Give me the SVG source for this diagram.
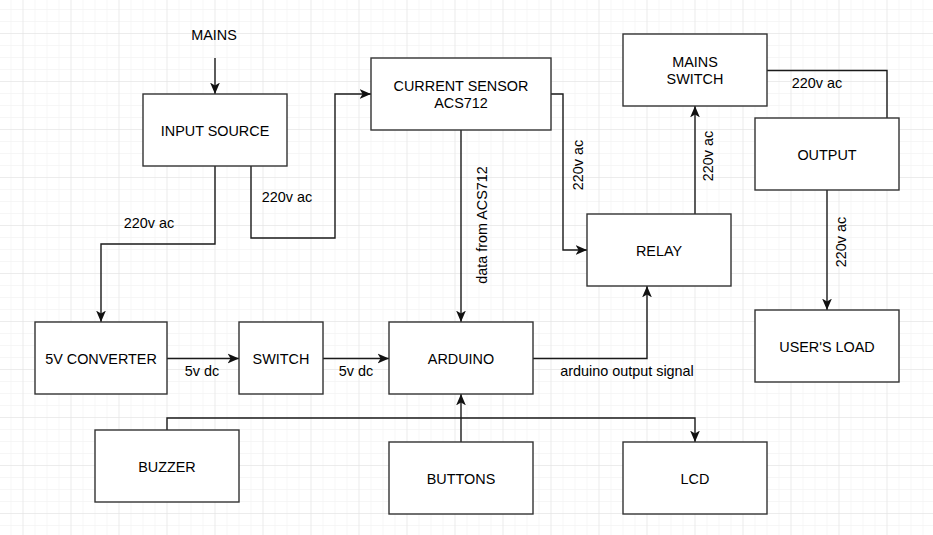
<svg xmlns="http://www.w3.org/2000/svg" width="933" height="535" viewBox="0 0 933 535">
<defs>
<pattern id="minor" x="10.5" y="9" width="12" height="12" patternUnits="userSpaceOnUse">
<path d="M0,0 H12 M0,0 V12" fill="none" stroke="#eeeeee" stroke-width="1"/>
</pattern>
<pattern id="major" x="22.5" y="33" width="48" height="48" patternUnits="userSpaceOnUse">
<path d="M0,0 H48 M0,0 V48" fill="none" stroke="#e1e1e1" stroke-width="1"/>
</pattern>
<marker id="arr" markerUnits="userSpaceOnUse" markerWidth="12" markerHeight="12" viewBox="0 0 11 10" refX="10.5" refY="5" orient="auto">
<path d="M0,0.5 L10.5,5 L0,9.5 L2.8,5 Z" fill="#111"/>
</marker>
<style>
.box{fill:#fff;stroke:#333;stroke-width:1.4}
.t{font-family:"Liberation Sans",Arial,Helvetica,sans-serif;font-size:14.4px;fill:#000;text-anchor:middle}
.e{fill:none;stroke:#1a1a1a;stroke-width:1.4}
.ea{fill:none;stroke:#1a1a1a;stroke-width:1.4;marker-end:url(#arr)}
</style>
</defs>
<rect width="933" height="535" fill="#fff"/>
<rect width="933" height="535" fill="url(#minor)"/>
<rect width="933" height="535" fill="url(#major)"/>

<g id="connectors">
<path class="ea" d="M215,58 V94"/>
<path class="ea" d="M215,166 V244 H101 V322"/>
<text class="t" x="149" y="228">220v ac</text>
<path class="ea" d="M251,166 V238 H335 V94 H371"/>
<text class="t" x="287" y="202">220v ac</text>
<path class="ea" d="M551,94 H563 V250 H587"/>
<text class="t" transform="translate(583,165) rotate(-90)">220v ac</text>
<path class="ea" d="M461,130 V322"/>
<text class="t" transform="translate(487,225) rotate(-90)">data from ACS712</text>
<path class="ea" d="M695,214 V106"/>
<text class="t" transform="translate(713,156) rotate(-90)">220v ac</text>
<path class="e" d="M767,70.5 H887 V118"/>
<text class="t" x="817" y="88">220v ac</text>
<path class="ea" d="M827,190 V310"/>
<text class="t" transform="translate(846,242) rotate(-90)">220v ac</text>
<path class="ea" d="M167,358.5 H239"/>
<text class="t" x="202" y="376">5v dc</text>
<path class="ea" d="M323,358.5 H389"/>
<text class="t" x="356" y="376">5v dc</text>
<path class="ea" d="M533,358.5 H647 V286"/>
<text class="t" x="627" y="376">arduino output signal</text>
<path class="ea" d="M461,442 V394"/>
<path class="ea" d="M167,430 V418 H695 V442"/>
</g>

<g id="mains-label"><text class="t" x="214" y="40">MAINS</text></g>
<g id="input-source"><rect class="box" x="143" y="94" width="144" height="72"/><text class="t" x="215" y="136">INPUT SOURCE</text></g>
<g id="current-sensor"><rect class="box" x="371" y="58" width="180" height="72"/><text class="t" x="461" y="91">CURRENT SENSOR</text><text class="t" x="461" y="108">ACS712</text></g>
<g id="mains-switch"><rect class="box" x="623" y="34" width="144" height="72"/><text class="t" x="695" y="67">MAINS</text><text class="t" x="695" y="84">SWITCH</text></g>
<g id="relay"><rect class="box" x="587" y="214" width="144" height="72"/><text class="t" x="659" y="256">RELAY</text></g>
<g id="output"><rect class="box" x="755" y="118" width="144" height="72"/><text class="t" x="827" y="160">OUTPUT</text></g>
<g id="users-load"><rect class="box" x="755" y="310" width="144" height="72"/><text class="t" x="827" y="352">USER'S LOAD</text></g>
<g id="converter"><rect class="box" x="35" y="322" width="132" height="72"/><text class="t" x="101" y="364">5V CONVERTER</text></g>
<g id="switch"><rect class="box" x="239" y="322" width="84" height="72"/><text class="t" x="281" y="364">SWITCH</text></g>
<g id="arduino"><rect class="box" x="389" y="322" width="144" height="72"/><text class="t" x="461" y="364">ARDUINO</text></g>
<g id="buzzer"><rect class="box" x="95" y="430" width="144" height="72"/><text class="t" x="167" y="472">BUZZER</text></g>
<g id="buttons"><rect class="box" x="389" y="442" width="144" height="72"/><text class="t" x="461" y="484">BUTTONS</text></g>
<g id="lcd"><rect class="box" x="623" y="442" width="144" height="72"/><text class="t" x="695" y="484">LCD</text></g>
</svg>
